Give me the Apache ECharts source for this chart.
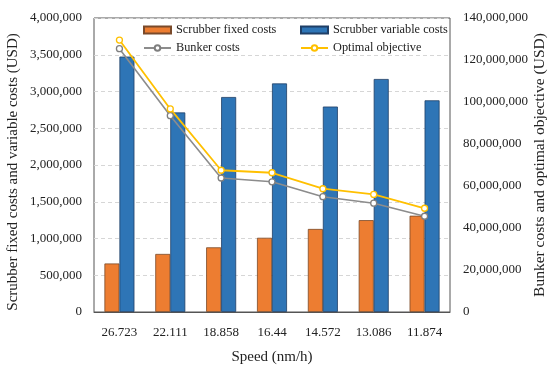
<!DOCTYPE html>
<html><head><meta charset="utf-8">
<script src="https://cdn.jsdelivr.net/npm/echarts@6/dist/echarts.min.js"></script>
<style>html,body{margin:0;padding:0;background:#fff}#c{width:550px;height:366px}</style>
</head><body><div id="c"></div>
<script>
const categories = ['26.723','22.111','18.858','16.44','14.572','13.086','11.874'];
const scrubberFixed = [660000, 790000, 880000, 1010000, 1130000, 1250000, 1310000];
const scrubberVariable = [3475000, 2715000, 2925000, 3110000, 2795000, 3170000, 2880000];
const bunkerCosts = [125400000, 93500000, 63800000, 62000000, 54900000, 51800000, 45600000];
const optimalObjective = [129500000, 96700000, 67500000, 66300000, 58700000, 56000000, 49400000];
const leftTicks = {min: 0, max: 4000000, interval: 500000};
const rightTicks = {min: 0, max: 140000000, interval: 20000000};

const font = 'Liberation Serif';
const fmt = v => v.toLocaleString('en-US');
const chart = echarts.init(document.getElementById('c'));
const legendBase = {itemWidth: 27, itemHeight: 7, itemGap: 2, textStyle: {fontFamily: font, fontSize: 12.3, color: '#222'}, padding: 0};
chart.setOption({
  animation: false,
  textStyle: {fontFamily: font},
  grid: {left: 94, right: 100, top: 18, bottom: 54, show: true, borderColor: '#555', borderWidth: 1,
         containLabel: false, outerBoundsMode: 'none'},
  legend: [
    Object.assign({}, legendBase, {data: [{name: 'Scrubber fixed costs', icon: 'rect'}], left: 143, top: 24}),
    Object.assign({}, legendBase, {data: [{name: 'Scrubber variable costs', icon: 'rect'}], left: 300, top: 24}),
    Object.assign({}, legendBase, {data: ['Bunker costs'], left: 143, top: 42}),
    Object.assign({}, legendBase, {data: ['Optimal objective'], left: 300, top: 42})
  ],
  xAxis: {
    type: 'category', data: categories,
    name: 'Speed (nm/h)', nameLocation: 'middle', nameGap: 38,
    nameTextStyle: {fontFamily: font, fontSize: 15, color: '#222'},
    axisLine: {lineStyle: {color: '#555'}}, axisTick: {show: false},
    axisLabel: {fontFamily: font, fontSize: 13, color: '#222', margin: 14}
  },
  yAxis: [{
    type: 'value', min: leftTicks.min, max: leftTicks.max, interval: leftTicks.interval,
    name: 'Scrubber fixed costs and variable costs (USD)', nameLocation: 'middle', nameGap: 73, nameRotate: 90,
    nameMoveOverlap: false,
    nameTextStyle: {fontFamily: font, fontSize: 15, color: '#222', padding: [0, 14, 0, 0]},
    axisLine: {show: false}, axisTick: {show: false},
    axisLabel: {fontFamily: font, fontSize: 13, color: '#222', margin: 12, formatter: fmt},
    splitLine: {lineStyle: {color: '#d6d6d6', type: [4, 3]}}
  }, {
    type: 'value', position: 'right', min: rightTicks.min, max: rightTicks.max, interval: rightTicks.interval,
    name: 'Bunker costs and optimal objective (USD)', nameLocation: 'middle', nameGap: 82, nameRotate: 90,
    nameMoveOverlap: false,
    nameTextStyle: {fontFamily: font, fontSize: 15.5, color: '#222'},
    axisLine: {show: false}, axisTick: {show: false},
    axisLabel: {fontFamily: font, fontSize: 13, color: '#222', margin: 13, formatter: fmt},
    splitLine: {show: false}
  }],
  series: [
    {name: 'Scrubber fixed costs', type: 'bar', data: scrubberFixed, barWidth: 15, barGap: '0%',
     itemStyle: {color: '#ED7D31', borderColor: '#7a4a2a', borderWidth: 0.8}},
    {name: 'Scrubber variable costs', type: 'bar', data: scrubberVariable, barWidth: 15, barGap: '0%',
     itemStyle: {color: '#2E75B6', borderColor: '#1f3f66', borderWidth: 0.8}},
    {name: 'Bunker costs', type: 'line', yAxisIndex: 1, data: bunkerCosts,
     symbol: 'circle', symbolSize: 6, lineStyle: {color: '#8c8c8c', width: 1.6},
     itemStyle: {color: '#fff', borderColor: '#7f7f7f', borderWidth: 1.3}},
    {name: 'Optimal objective', type: 'line', yAxisIndex: 1, data: optimalObjective,
     symbol: 'circle', symbolSize: 6, lineStyle: {color: '#FFC000', width: 1.8},
     itemStyle: {color: '#fff', borderColor: '#FFC000', borderWidth: 1.3}}
  ]
});
</script></body></html>
